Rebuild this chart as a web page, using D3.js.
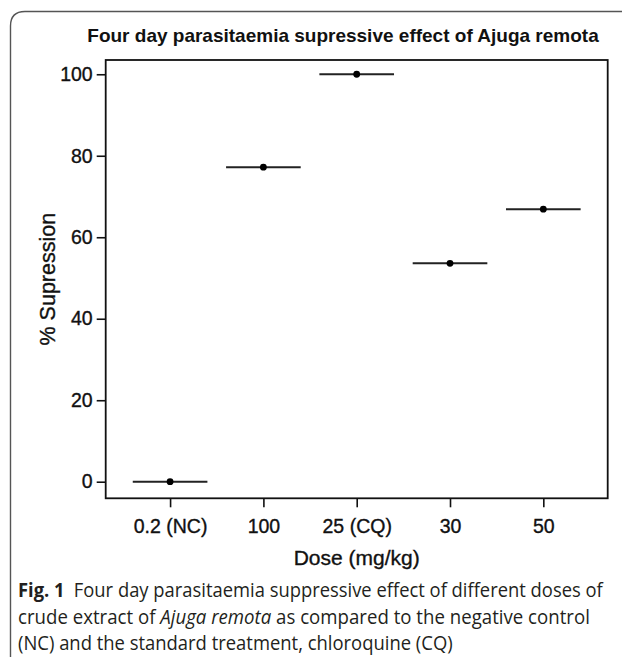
<!DOCTYPE html>
<html>
<head>
<meta charset="utf-8">
<script src="https://cdn.jsdelivr.net/npm/d3@7"></script>
<style>
  html, body { margin: 0; padding: 0; background: #fff; }
  svg { display: block; }
</style>
</head>
<body>
<script>
// ---- data ----
const categories = ["0.2 (NC)", "100", "25 (CQ)", "30", "50"];
const suppression = [0, 77.2, 100, 53.6, 66.9];
const yTicks = [0, 20, 40, 60, 80, 100];
const chartTitle = "Four day parasitaemia supressive effect of Ajuga remota";
const xTitle = "Dose (mg/kg)";
const yTitle = "% Supression";

const W = 622, H = 657;
const svg = d3.select("body").append("svg").attr("width", W).attr("height", H);

// outer figure frame (rounded corner top-left)
svg.append("path")
  .attr("d", "M10.5,700 L10.5,26 Q10.5,11.5 25,11.5 L700,11.5")
  .attr("fill", "none").attr("stroke", "#555").attr("stroke-width", 1.4);

const plot = { left: 105.7, right: 607.7, top: 60, bottom: 498.3 };

const x = d3.scalePoint().domain(categories).range([plot.left, plot.right]).padding(0.69);
const y = d3.scaleLinear().domain([-4.07, 103.5]).range([plot.bottom, plot.top]);

const font = "'Liberation Sans', Arial, sans-serif";
const ink = "#111";

// title
svg.append("text")
  .attr("x", 343).attr("y", 42)
  .attr("text-anchor", "middle")
  .attr("font-family", font).attr("font-weight", "bold").attr("font-size", 19)
  .attr("fill", ink)
  .text(chartTitle);

// plot frame
svg.append("rect")
  .attr("x", plot.left).attr("y", plot.top)
  .attr("width", plot.right - plot.left).attr("height", plot.bottom - plot.top)
  .attr("fill", "none").attr("stroke", ink).attr("stroke-width", 1.8);

// y axis
const yAxis = d3.axisLeft(y).tickValues(yTicks).tickSize(9).tickPadding(4);
const gy = svg.append("g").attr("transform", `translate(${plot.left},0)`).call(yAxis);
gy.select(".domain").remove();
gy.selectAll(".tick line").attr("stroke", ink).attr("stroke-width", 1.6);
gy.selectAll(".tick text").attr("font-family", font).attr("font-size", 19.5)
  .attr("fill", ink).attr("stroke", ink).attr("stroke-width", 0.35);

// x axis
const xAxis = d3.axisBottom(x).tickSize(9).tickPadding(12);
const gx = svg.append("g").attr("transform", `translate(0,${plot.bottom})`).call(xAxis);
gx.select(".domain").remove();
gx.selectAll(".tick line").attr("stroke", ink).attr("stroke-width", 1.6);
gx.selectAll(".tick text").attr("font-family", font).attr("font-size", 19.5)
  .attr("fill", ink).attr("stroke", ink).attr("stroke-width", 0.35);

// axis titles
svg.append("text")
  .attr("x", (plot.left + plot.right) / 2).attr("y", 565)
  .attr("text-anchor", "middle")
  .attr("font-family", font).attr("font-size", 21).attr("fill", ink)
  .attr("stroke", ink).attr("stroke-width", 0.35)
  .text(xTitle);

svg.append("text")
  .attr("transform", `translate(55,${(plot.top + plot.bottom) / 2}) rotate(-90)`)
  .attr("text-anchor", "middle")
  .attr("font-family", font).attr("font-size", 21.5).attr("fill", ink)
  .attr("stroke", ink).attr("stroke-width", 0.35)
  .text(yTitle);

// marks
const data = categories.map((c, i) => ({ c, v: suppression[i] }));
const half = x.step() * 0.4;
svg.append("g").selectAll("line").data(data).join("line")
  .attr("x1", d => x(d.c) - half).attr("x2", d => x(d.c) + half)
  .attr("y1", d => y(d.v)).attr("y2", d => y(d.v))
  .attr("stroke", "#222").attr("stroke-width", 2);
svg.append("g").selectAll("circle").data(data).join("circle")
  .attr("cx", d => x(d.c)).attr("cy", d => y(d.v)).attr("r", 3.4)
  .attr("fill", "#000");

// caption (horizontally condensed to match the narrow caption face)
const capFont = "'Open Sans', 'Noto Sans', sans-serif";
const capColor = "#231f20";
function captionLine(baseline, targetWidth, build) {
  const g = svg.append("g");
  const t = g.append("text").attr("x", 0).attr("y", 0)
    .attr("font-family", capFont).attr("font-size", 20).attr("fill", capColor);
  build(t);
  const natural = t.node().getComputedTextLength();
  const k = targetWidth / natural;
  g.attr("transform", `translate(18,${baseline}) scale(${k},1)`);
}
captionLine(597, 585, t => {
  t.append("tspan").attr("font-weight", "bold").text("Fig. 1");
  t.append("tspan").text("\u2002Four day parasitaemia suppressive effect of different doses of");
});
captionLine(624, 572, t => {
  t.append("tspan").text("crude extract of ");
  t.append("tspan").attr("font-style", "italic").text("Ajuga remota");
  t.append("tspan").text(" as compared to the negative control");
});
captionLine(650, 435, t => {
  t.text("(NC) and the standard treatment, chloroquine (CQ)");
});
</script>
</body>
</html>
